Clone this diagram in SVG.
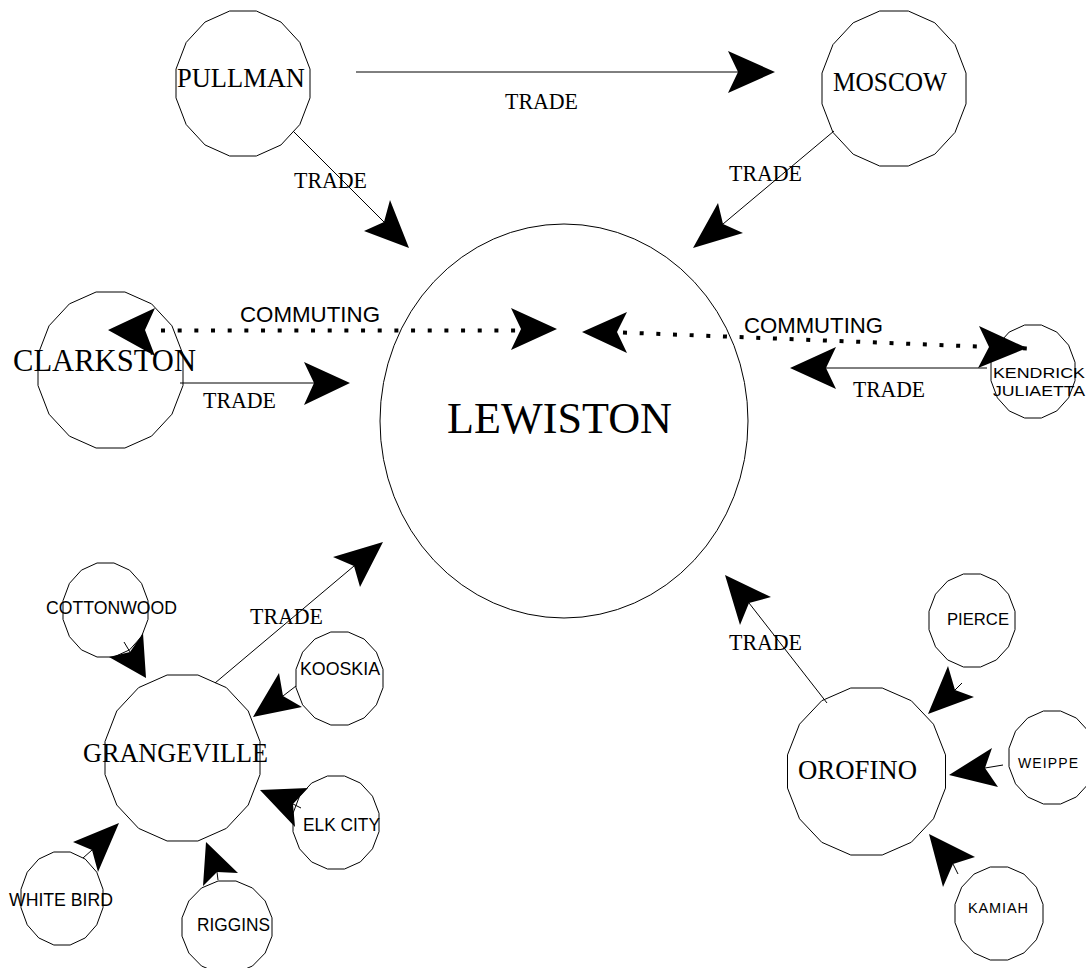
<svg xmlns="http://www.w3.org/2000/svg" xmlns:xlink="http://www.w3.org/1999/xlink" width="1086" height="968" viewBox="0 0 1086 968">
<style>
.node{fill:#fff;stroke:#000;stroke-width:1;vector-effect:non-scaling-stroke}
.serif{font-family:"Liberation Serif","Times New Roman",serif;fill:#000}
.sans{font-family:"Liberation Sans",Arial,sans-serif;fill:#000}
.ln{stroke:#000;stroke-width:1;fill:none}
.dot{stroke:#000;stroke-width:4;fill:none;stroke-dasharray:4 12.67}
.ah{fill:#000;stroke:none}
</style>
<defs>
<polygon id="p16" class="node" points="1,0.1989 0.8478,0.5665 0.5665,0.8478 0.1989,1 -0.1989,1 -0.5665,0.8478 -0.8478,0.5665 -1,0.1989 -1,-0.1989 -0.8478,-0.5665 -0.5665,-0.8478 -0.1989,-1 0.1989,-1 0.5665,-0.8478 0.8478,-0.5665 1,-0.1989"/>
</defs>
<rect width="1086" height="968" fill="#fff"/>

<g id="lewiston">
<ellipse class="node" cx="564" cy="421" rx="184" ry="197"/>
<text class="serif" x="447" y="433" font-size="45" textLength="225" lengthAdjust="spacingAndGlyphs">LEWISTON</text>
</g>
<g id="pullman">
<use href="#p16" transform="translate(243 83.5) scale(67 72.5)"/>
<text class="serif" x="177" y="87" font-size="27" textLength="128" lengthAdjust="spacingAndGlyphs">PULLMAN</text>
</g>
<g id="moscow">
<use href="#p16" transform="translate(894 88.5) scale(72 77.5)"/>
<text class="serif" x="833" y="91" font-size="27" textLength="114" lengthAdjust="spacingAndGlyphs">MOSCOW</text>
</g>
<g id="clarkston">
<use href="#p16" transform="translate(110.5 370) scale(72.5 78)"/>
<text class="serif" x="13" y="371" font-size="31" textLength="183" lengthAdjust="spacingAndGlyphs">CLARKSTON</text>
</g>
<g id="kendrick">
<use href="#p16" transform="translate(1033 371.5) scale(42 46.5)"/>
<text class="sans" x="993" y="378" font-size="15.5" textLength="92" lengthAdjust="spacingAndGlyphs">KENDRICK</text>
<text class="sans" x="993" y="396" font-size="15.5" textLength="92" lengthAdjust="spacingAndGlyphs">JULIAETTA</text>
</g>
<g id="cottonwood">
<use href="#p16" transform="translate(105.5 610) scale(42.5 47)"/>
<text class="sans" x="46" y="614" font-size="17.5" textLength="131" lengthAdjust="spacingAndGlyphs">COTTONWOOD</text>
</g>
<g id="grangeville">
<use href="#p16" transform="translate(182.5 758) scale(77.5 83)"/>
<text class="serif" x="83" y="762" font-size="27" textLength="185" lengthAdjust="spacingAndGlyphs">GRANGEVILLE</text>
</g>
<g id="kooskia">
<use href="#p16" transform="translate(339.5 678.5) scale(43.5 46.5)"/>
<text class="sans" x="300" y="675" font-size="17.5" textLength="80" lengthAdjust="spacingAndGlyphs">KOOSKIA</text>
</g>
<g id="elkcity">
<use href="#p16" transform="translate(336 822.5) scale(43 46.5)"/>
<text class="sans" x="303" y="831" font-size="17.5" textLength="77" lengthAdjust="spacingAndGlyphs">ELK CITY</text>
</g>
<g id="whitebird">
<use href="#p16" transform="translate(62 898.5) scale(41 46.5)"/>
<text class="sans" x="9" y="906" font-size="17.5" textLength="104" lengthAdjust="spacingAndGlyphs">WHITE BIRD</text>
</g>
<g id="riggins">
<use href="#p16" transform="translate(227 927) scale(45 46)"/>
<text class="sans" x="197" y="931" font-size="17.5" textLength="73" lengthAdjust="spacingAndGlyphs">RIGGINS</text>
</g>
<g id="pierce">
<use href="#p16" transform="translate(972 620.5) scale(43 46.5)"/>
<text class="sans" x="947" y="625" font-size="16.5" textLength="62" lengthAdjust="spacingAndGlyphs">PIERCE</text>
</g>
<g id="orofino">
<use href="#p16" transform="translate(866.5 771.5) scale(79 83.5)"/>
<text class="serif" x="798" y="779" font-size="27" textLength="119" lengthAdjust="spacingAndGlyphs">OROFINO</text>
</g>
<g id="weippe">
<use href="#p16" transform="translate(1052 757.5) scale(43 46.5)"/>
<text class="sans" x="1018" y="768" font-size="14" textLength="60" lengthAdjust="spacing">WEIPPE</text>
</g>
<g id="kamiah">
<use href="#p16" transform="translate(999 913.5) scale(44 46.5)"/>
<text class="sans" x="968" y="913" font-size="14.5" textLength="60" lengthAdjust="spacing">KAMIAH</text>
</g>

<g id="connectors">
<!-- Pullman -> Moscow -->
<line class="ln" x1="356" y1="72" x2="738" y2="72"/>
<polygon class="ah" points="775,72 728,51 738,72 728,93"/>
<text class="serif" x="505" y="109" font-size="23" textLength="73" lengthAdjust="spacingAndGlyphs">TRADE</text>
<!-- Pullman -> Lewiston -->
<line class="ln" x1="293" y1="131" x2="384" y2="222"/>
<polygon class="ah" points="409,248 390,200 384,222 364,231"/>
<text class="serif" x="294" y="188" font-size="23" textLength="73" lengthAdjust="spacingAndGlyphs">TRADE</text>
<!-- Moscow -> Lewiston -->
<line class="ln" x1="834" y1="131" x2="723" y2="224"/>
<polygon class="ah" points="693,248 718,203 723,224 743,233"/>
<text class="serif" x="729" y="181" font-size="23" textLength="73" lengthAdjust="spacingAndGlyphs">TRADE</text>
<!-- Clarkston <-> Lewiston commuting -->
<line class="dot" x1="161" y1="330.5" x2="516" y2="330.5"/>
<polygon class="ah" points="108,330 155,308 145,330 155,356"/>
<polygon class="ah" points="557,329 511,308 521,329 511,350"/>
<text class="sans" x="240" y="322" font-size="22.5" textLength="140" lengthAdjust="spacingAndGlyphs">COMMUTING</text>
<!-- Clarkston -> Lewiston trade -->
<line class="ln" x1="180" y1="383" x2="314" y2="383"/>
<polygon class="ah" points="350,383 304,362 314,383 304,405"/>
<text class="serif" x="203" y="408" font-size="23" textLength="73" lengthAdjust="spacingAndGlyphs">TRADE</text>
<!-- Kendrick <-> Lewiston commuting -->
<line class="dot" x1="623" y1="332.5" x2="1029" y2="348.5"/>
<polygon class="ah" points="582,332 627,312 617,332 627,353"/>
<polygon class="ah" points="1027,348 979,326 989,347 978,368"/>
<text class="sans" x="744" y="333" font-size="22.5" textLength="139" lengthAdjust="spacingAndGlyphs">COMMUTING</text>
<!-- Kendrick -> Lewiston trade -->
<line class="ln" x1="987" y1="368" x2="826" y2="368"/>
<polygon class="ah" points="790,368 836,347 826,368 836,389"/>
<text class="serif" x="853" y="397" font-size="23" textLength="72" lengthAdjust="spacingAndGlyphs">TRADE</text>
<!-- Grangeville -> Lewiston -->
<line class="ln" x1="215" y1="683" x2="354" y2="566"/>
<polygon class="ah" points="383,542 333,557 354,566 360,587"/>
<text class="serif" x="250" y="624" font-size="23" textLength="73" lengthAdjust="spacingAndGlyphs">TRADE</text>
<!-- Orofino -> Lewiston -->
<line class="ln" x1="827" y1="703" x2="749" y2="603"/>
<polygon class="ah" points="725,575 771,597 749,603 740,625"/>
<text class="serif" x="729" y="650" font-size="23" textLength="73" lengthAdjust="spacingAndGlyphs">TRADE</text>
<!-- satellites -> Grangeville -->
<line class="ln" x1="124" y1="642" x2="130" y2="652"/>
<polygon class="ah" points="146,678 109,657 130,652 143,633"/>
<line class="ln" x1="296" y1="686" x2="283" y2="696"/>
<polygon class="ah" points="253,717 279,673 283,696 302,707"/>
<line class="ln" x1="301" y1="808" x2="293" y2="804"/>
<polygon class="ah" points="260,790 308,788 293,804 295,827"/>
<line class="ln" x1="83" y1="858" x2="92" y2="850"/>
<polygon class="ah" points="119,823 73,842 92,850 98,872"/>
<line class="ln" x1="218" y1="880" x2="217" y2="872"/>
<polygon class="ah" points="206,842 238,873 217,872 203,886"/>
<!-- satellites -> Orofino -->
<line class="ln" x1="962" y1="683" x2="955" y2="690"/>
<polygon class="ah" points="928,714 948,666 955,690 974,697"/>
<line class="ln" x1="1003" y1="765" x2="985" y2="768"/>
<polygon class="ah" points="949,775 992,748 985,768 998,787"/>
<line class="ln" x1="958" y1="874" x2="953" y2="864"/>
<polygon class="ah" points="929,834 975,857 953,864 943,887"/>
</g>
</svg>
